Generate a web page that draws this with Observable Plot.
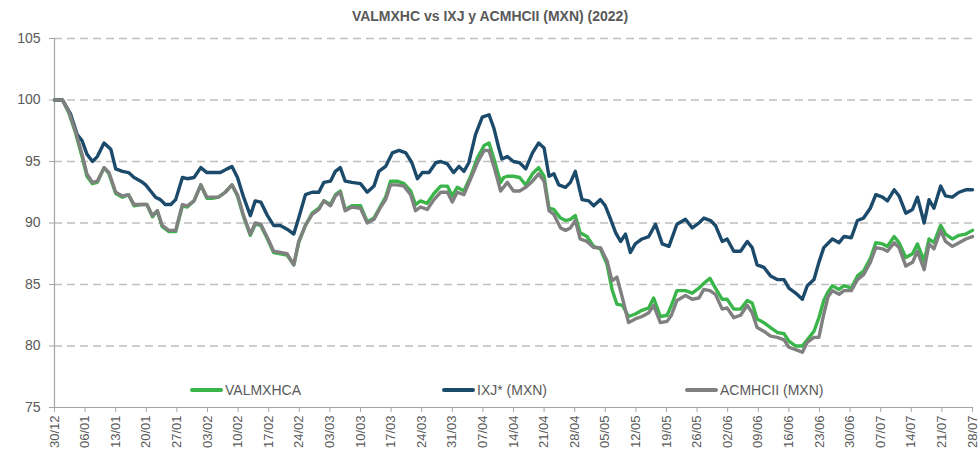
<!DOCTYPE html>
<html>
<head>
<meta charset="utf-8">
<script src="https://cdn.jsdelivr.net/npm/d3@7"></script>
<script src="https://cdn.jsdelivr.net/npm/@observablehq/plot@0.6"></script>
<style>
  html, body { margin: 0; padding: 0; background: #fff; }
  #wrap { position: relative; width: 980px; height: 455px; font-family: "Liberation Sans", Arial, sans-serif; }
  #title { position: absolute; left: 0; top: 8px; width: 980px; text-align: center; font-family: "Liberation Sans Narrow", "Liberation Sans", Arial, sans-serif; font-weight: bold; font-size: 14px; color: #595959; }
  .leg { position: absolute; top: 382px; display: flex; align-items: center; font-size: 14px; color: #595959; }
  .sw { width: 33px; height: 4px; border-radius: 2px; margin-right: 2px; }
</style>
</head>
<body>
<div id="wrap">
  <div id="chart"></div>
  <div id="title"></div>
  <div id="legend"></div>
</div>
<script>
const title = "VALMXHC vs IXJ y ACMHCII (MXN) (2022)";
const seriesNames = ["VALMXHCA", "IXJ* (MXN)", "ACMHCII (MXN)"];
const seriesColors = ["#3ab54a", "#1b4a6b", "#808080"];
const xLabels = ["30/12","06/01","13/01","20/01","27/01","03/02","10/02","17/02","24/02","03/03","10/03","17/03","24/03","31/03","07/04","14/04","21/04","28/04","05/05","12/05","19/05","26/05","02/06","09/06","16/06","23/06","30/06","07/07","14/07","21/07","28/07"];
const yTicks = [75, 80, 85, 90, 95, 100, 105];

// [trading day since 30/12/2021, index value]
const valmxhca = [[0,100],[1.3,100],[2.3,99.0],[3.4,97.4],[4.5,95.4],[5.3,93.8],[6.2,93.2],[7.0,93.3],[8.1,94.5],[8.9,94.0],[10.0,92.4],[11.1,92.1],[12.1,92.3],[13.0,91.4],[14.1,91.5],[15.1,91.5],[16.0,90.5],[16.8,91.0],[17.6,89.7],[18.7,89.3],[19.8,89.3],[20.9,91.4],[21.7,91.3],[22.8,91.8],[23.9,93.1],[24.9,92.0],[25.8,92.0],[26.8,92.1],[27.9,92.5],[29.0,93.1],[29.9,92.2],[30.9,90.5],[32.0,89.0],[32.8,89.9],[33.7,89.8],[34.8,88.7],[35.8,87.6],[36.9,87.5],[38.0,87.4],[39.1,86.6],[39.9,88.4],[41.0,89.8],[42.1,90.8],[43.2,91.2],[44.0,91.8],[45.1,91.5],[45.9,92.3],[46.7,92.6],[47.5,91.1],[48.6,91.4],[50.0,91.4],[51.1,90.1],[52.2,90.4],[53.3,91.4],[54.1,92.1],[54.9,93.4],[56.0,93.4],[57.1,93.2],[58.2,92.6],[59.0,91.5],[59.8,91.8],[60.9,91.6],[62.0,92.4],[63.1,93.0],[64.2,93.0],[65.0,92.2],[65.8,92.9],[66.9,92.6],[68.0,93.8],[69.1,95.3],[70.2,96.3],[71.0,96.5],[71.8,95.2],[72.9,93.3],[73.4,93.7],[74.0,93.8],[75.0,93.8],[76.0,93.7],[77.0,93.1],[78.1,94.0],[79.1,94.5],[80.0,93.8],[80.8,91.2],[81.6,91.1],[82.7,90.4],[83.5,90.2],[84.3,90.3],[85.1,90.6],[85.9,89.2],[87.0,88.9],[88.1,88.1],[89.2,87.9],[90.3,86.6],[91.1,84.6],[91.9,83.4],[92.8,83.3],[93.8,82.4],[94.9,82.6],[96.0,82.9],[97.1,83.1],[97.9,83.9],[99.0,82.4],[100.1,82.5],[100.8,83.3],[101.7,84.5],[103.1,84.5],[104.2,84.3],[105.3,84.7],[106.1,85.1],[107.1,85.5],[108.0,84.7],[109.1,83.8],[109.9,83.8],[111.0,83.0],[112.1,83.0],[113.2,83.7],[114.0,83.5],[114.8,82.2],[115.9,81.9],[117.0,81.5],[118.1,81.1],[119.2,81.0],[120.0,80.4],[121.1,80.0],[122.2,80.0],[123.0,80.5],[124.1,81.2],[124.9,82.3],[125.7,83.7],[126.4,84.4],[127.1,84.9],[128.2,84.6],[129.0,84.9],[130.2,84.7],[131.2,85.7],[132.2,86.1],[133.3,87.1],[134.2,88.4],[135.3,88.3],[136.1,88.1],[137.2,88.9],[138.0,88.4],[139.1,87.2],[140.2,87.5],[141.0,88.3],[142.1,86.9],[142.9,88.7],[143.7,88.4],[144.8,89.8],[145.6,89.1],[146.7,88.7],[147.8,89.0],[148.9,89.1],[150.0,89.4]];

const ixj = [[0,100],[1.3,100],[2.6,98.9],[3.7,97.2],[4.5,96.7],[5.3,95.6],[6.2,95.0],[7.0,95.4],[8.1,96.5],[9.2,96.0],[10.0,94.4],[11.1,94.2],[12.1,94.1],[13.0,93.7],[14.1,93.4],[14.9,93.1],[15.7,92.6],[16.5,92.1],[17.3,91.9],[18.1,91.5],[19.0,91.5],[19.8,91.9],[20.9,93.7],[21.7,93.6],[22.8,93.7],[23.9,94.5],[24.9,94.1],[26.0,94.1],[27.1,94.1],[28.2,94.4],[29.0,94.6],[29.9,93.7],[30.9,92.1],[32.0,90.6],[32.8,91.8],[33.7,91.7],[34.8,90.6],[35.8,89.8],[36.9,89.8],[38.0,89.5],[39.1,89.1],[39.9,90.4],[41.0,92.3],[42.1,92.5],[43.2,92.5],[44.0,93.3],[45.1,93.4],[45.9,94.2],[46.7,94.5],[47.5,93.4],[48.6,93.3],[50.0,93.2],[51.1,92.5],[52.2,93.0],[53.0,94.2],[54.1,94.6],[55.2,95.7],[56.3,95.9],[57.4,95.7],[58.4,94.9],[59.3,93.6],[60.1,94.1],[61.2,94.1],[62.3,94.9],[63.1,95.0],[64.2,94.8],[65.2,94.1],[66.1,94.6],[66.9,94.2],[67.7,94.9],[68.8,97.2],[69.9,98.6],[71.0,98.8],[71.8,97.7],[72.6,96.1],[73.1,95.2],[74.0,95.4],[75.0,95.0],[76.0,94.9],[77.0,94.4],[78.1,95.7],[79.1,96.5],[80.0,96.1],[80.8,93.8],[81.6,94.0],[82.4,93.1],[83.5,92.9],[84.3,93.3],[85.1,94.2],[86.2,91.9],[87.3,91.8],[88.1,91.4],[89.2,91.9],[90.0,91.4],[90.8,90.4],[91.7,89.2],[92.5,88.5],[93.3,89.1],[94.1,87.6],[94.9,88.3],[96.0,88.7],[97.1,88.9],[98.2,89.9],[99.3,88.3],[100.4,88.1],[101.7,89.9],[103.1,90.3],[104.2,89.6],[105.3,90.0],[106.1,90.4],[107.2,90.2],[108.0,89.8],[109.1,88.5],[109.9,88.7],[111.0,87.7],[112.1,87.7],[113.2,88.5],[114.0,88.0],[114.8,86.6],[115.9,86.4],[117.0,85.7],[118.1,85.4],[119.2,85.4],[120.0,84.7],[121.1,84.3],[122.2,83.8],[123.0,84.9],[124.1,85.4],[124.9,86.8],[125.7,88.0],[127.1,88.7],[128.2,88.4],[129.0,88.9],[130.2,88.8],[131.2,90.2],[132.2,90.4],[133.3,91.2],[134.2,92.3],[135.3,92.1],[136.1,91.8],[137.2,92.7],[138.0,92.2],[139.1,90.8],[140.2,91.1],[141.0,92.1],[142.1,90.0],[142.9,91.9],[143.7,91.2],[144.8,93.0],[145.6,92.2],[146.7,92.1],[147.8,92.5],[148.9,92.7],[150.0,92.7]];

const acmhcii = [[0,100],[1.3,100],[2.3,99.1],[3.4,97.5],[4.5,95.6],[5.3,94.0],[6.2,93.3],[7.0,93.4],[8.1,94.5],[8.9,94.1],[10.0,92.5],[11.1,92.2],[12.1,92.3],[13.0,91.5],[14.1,91.5],[15.1,91.5],[16.0,90.6],[16.8,91.0],[17.6,89.8],[18.7,89.4],[19.8,89.4],[20.9,91.5],[21.7,91.4],[22.8,91.8],[23.9,93.1],[24.9,92.1],[25.8,92.1],[26.8,92.1],[27.9,92.5],[29.0,93.1],[29.9,92.3],[30.9,90.6],[32.0,89.1],[32.8,90.0],[33.7,89.9],[34.8,88.8],[35.8,87.7],[36.9,87.6],[38.0,87.5],[39.1,86.6],[39.9,88.5],[41.0,89.8],[42.1,90.7],[43.2,91.1],[44.0,91.8],[45.1,91.4],[45.9,92.2],[46.7,92.5],[47.5,91.0],[48.6,91.3],[50.0,91.2],[51.1,90.0],[52.2,90.3],[53.3,91.3],[54.1,91.9],[54.9,93.1],[56.0,93.1],[57.1,93.0],[58.2,92.3],[59.0,91.0],[59.8,91.3],[60.9,91.1],[62.0,91.9],[63.1,92.5],[64.2,92.5],[65.0,91.7],[65.8,92.5],[66.9,92.3],[68.0,93.6],[69.1,94.9],[70.2,95.9],[71.0,95.9],[71.8,94.6],[72.9,92.6],[74.0,93.3],[75.0,92.6],[76.0,92.6],[77.0,92.9],[78.1,93.4],[79.1,94.0],[80.0,93.4],[80.8,91.0],[81.6,90.7],[82.7,89.6],[83.5,89.4],[84.3,89.6],[85.1,90.2],[85.9,88.7],[87.0,88.5],[88.1,88.0],[89.2,88.0],[90.3,86.9],[91.1,85.3],[91.9,85.6],[92.8,83.9],[93.8,81.9],[94.9,82.2],[96.0,82.4],[97.1,82.7],[97.9,83.3],[99.0,81.9],[100.1,82.0],[100.8,82.5],[101.7,83.7],[103.1,84.1],[104.2,83.8],[105.3,83.9],[106.1,84.6],[107.1,84.5],[108.0,84.2],[109.1,83.0],[109.9,83.1],[111.0,82.3],[112.1,82.5],[113.2,83.3],[114.0,82.7],[114.8,81.5],[115.9,81.2],[117.0,80.8],[118.1,80.7],[119.2,80.5],[120.0,79.9],[121.1,79.7],[122.2,79.5],[123.0,80.3],[124.1,80.7],[124.9,80.7],[125.7,82.6],[126.4,84.0],[127.1,84.5],[128.2,84.2],[129.0,84.5],[130.2,84.5],[131.2,85.4],[132.2,85.8],[133.3,86.8],[134.2,88.0],[135.3,87.9],[136.1,87.7],[137.2,88.4],[138.0,88.0],[139.1,86.5],[140.2,86.8],[141.0,87.7],[142.1,86.2],[142.9,88.3],[143.7,87.9],[144.8,89.4],[145.6,88.5],[146.7,88.1],[147.8,88.4],[148.9,88.7],[150.0,88.9]];

const series = [valmxhca, ixj, acmhcii];
const tickDays = xLabels.map((_, i) => i * 5);

const chart = Plot.plot({
  width: 980,
  height: 455,
  marginTop: 38,
  marginBottom: 48,
  marginLeft: 54,
  marginRight: 8,
  style: { fontFamily: "'Liberation Sans', Arial, sans-serif", fontSize: "13px", color: "#595959", background: "#fff", overflow: "visible" },
  x: { domain: [0, 150], ticks: tickDays, tickFormat: (d) => xLabels[Math.round(d / 5)], tickRotate: -90, tickSize: 5, tickPadding: 3, label: null },
  y: { domain: [75, 105], ticks: yTicks, tickSize: 5, tickPadding: 9, label: null },
  marks: [
    Plot.ruleY(yTicks.filter(v => v > 75), { stroke: "#bfbfbf", strokeWidth: 1.4, strokeDasharray: "8,5" }),
    Plot.ruleX([0], { stroke: "#a6a6a6", strokeWidth: 1.2 }),
    Plot.ruleY([75], { stroke: "#a6a6a6", strokeWidth: 1.2 }),
    ...series.map((s, i) => Plot.line(s, { x: d => d[0], y: d => d[1], stroke: seriesColors[i], strokeWidth: 3.4, strokeLinejoin: "round", strokeLinecap: "round" }))
  ]
});
chart.querySelectorAll("[aria-label='y-axis tick label'] text, [aria-label='y-axis tick label']").forEach(el => el.setAttribute("font-size", "14"));
chart.querySelectorAll("[aria-label$='tick'] path, [aria-label$='tick']").forEach(el => el.setAttribute("stroke", "#a6a6a6"));
document.getElementById("chart").appendChild(chart);
document.getElementById("title").textContent = title;

const legendX = [190, 442, 685];
const legend = document.getElementById("legend");
seriesNames.forEach((n, i) => {
  const d = document.createElement("div");
  d.className = "leg";
  d.style.left = legendX[i] + "px";
  d.innerHTML = `<div class="sw" style="background:${seriesColors[i]}"></div><span></span>`;
  d.querySelector("span").textContent = n;
  legend.appendChild(d);
});
</script>
</body>
</html>
